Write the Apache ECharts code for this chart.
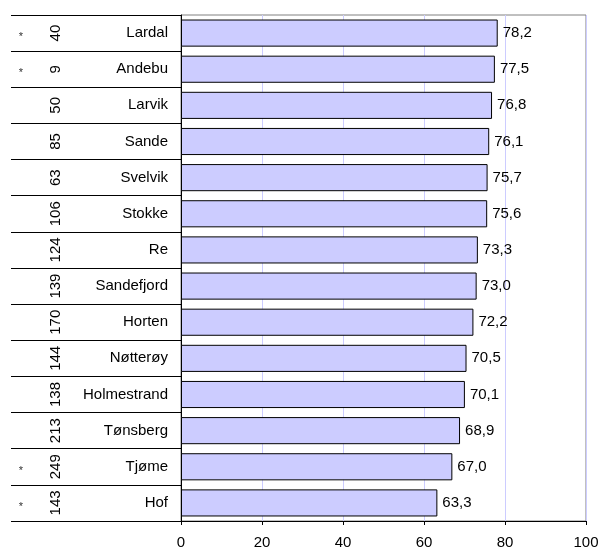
<!DOCTYPE html>
<html><head><meta charset="utf-8">
<script src="https://cdn.jsdelivr.net/npm/echarts@6/dist/echarts.min.js"></script>
<style>html,body{margin:0;padding:0;background:#fff;overflow:hidden}#c{width:598px;height:548px}</style>
</head><body><div id="c"></div>
<script>
const names = ['Lardal','Andebu','Larvik','Sande','Svelvik','Stokke','Re','Sandefjord','Horten','Nøtterøy','Holmestrand','Tønsberg','Tjøme','Hof'];
const values = [78.2,77.5,76.8,76.1,75.7,75.6,73.3,73.0,72.2,70.5,70.1,68.9,67.0,63.3];
const counts = ['40','9','50','85','63','106','124','139','170','144','138','213','249','143'];
const marks = ['*','*','','','','','','','','','','','*','*'];
const xTicks = [0,20,40,60,80,100];

const FONT = '"Liberation Sans", Arial, sans-serif';
const chart = echarts.init(document.getElementById('c'), null, {renderer:'canvas'});
chart.setOption({
  animation:false,
  backgroundColor:'#fff',
  textStyle:{fontFamily:FONT},
  grid:{left:181,right:12,top:15,bottom:27,show:true,borderColor:'#808080',borderWidth:1,backgroundColor:'#fff',
    containLabel:false,outerBoundsMode:'none'},
  xAxis:{type:'value',min:xTicks[0],max:xTicks[xTicks.length-1],interval:xTicks[1]-xTicks[0],
    axisLine:{show:true,lineStyle:{color:'#000',width:1}},
    axisTick:{show:true,length:4,lineStyle:{color:'#000'}},
    axisLabel:{color:'#000',fontSize:15,fontFamily:FONT,margin:14},
    splitLine:{show:true,lineStyle:{color:'#ccccff',width:1}}},
  yAxis:[
    {type:'category',data:names,inverse:true,position:'left',
      axisLine:{show:true,lineStyle:{color:'#000',width:1}},
      axisTick:{show:true,length:170,lineStyle:{color:'#000',width:1}},
      axisLabel:{color:'#000',fontSize:15,fontFamily:FONT,margin:13},
      splitLine:{show:false}},
    {type:'category',data:counts,inverse:true,position:'left',offset:118,
      axisLine:{show:false},axisTick:{show:false},
      axisLabel:{color:'#000',fontSize:15,fontFamily:FONT,rotate:90,margin:0},
      splitLine:{show:false}},
    {type:'category',data:marks,inverse:true,position:'left',offset:160,
      axisLine:{show:false},axisTick:{show:false},
      axisLabel:{margin:0,align:'center',
        formatter:v=>v?'{s|'+v+'}':'',
        rich:{s:{color:'#333',fontSize:11,fontFamily:FONT,padding:[8,0,0,0]}}},
      splitLine:{show:false}}
  ],
  series:[{type:'bar',data:values,yAxisIndex:0,barCategoryGap:'25%',
    itemStyle:{color:'#ccccff',borderColor:'#000',borderWidth:1},
    label:{show:true,position:'right',distance:5,color:'#000',fontSize:15,fontFamily:FONT,
      formatter:p=>p.value.toFixed(1).replace('.',',')}}]
});
</script></body></html>
